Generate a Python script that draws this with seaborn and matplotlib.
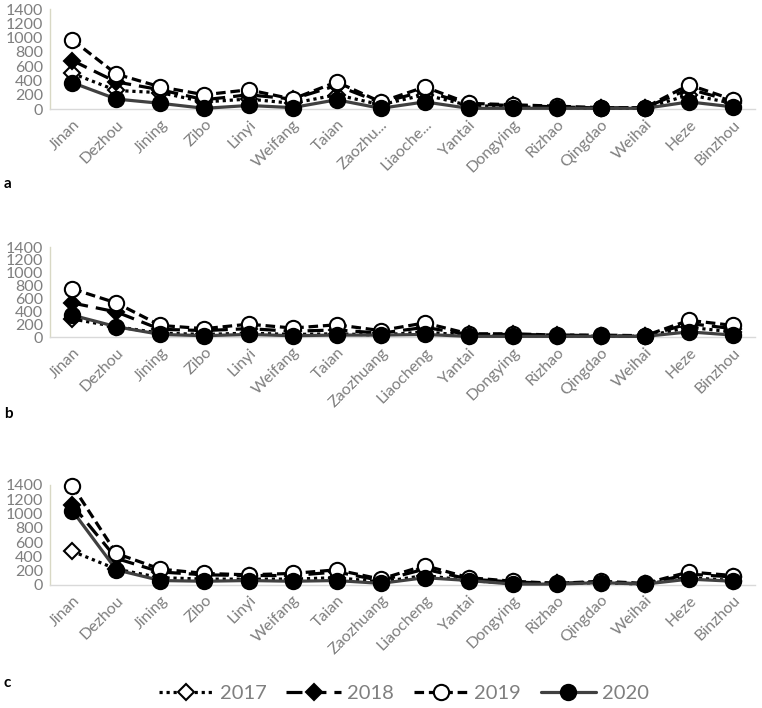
import numpy as np
import pandas as pd
import matplotlib
matplotlib.use("Agg")
import matplotlib.pyplot as plt
import seaborn as sns
from matplotlib.lines import Line2D

# Data
CITIES = ['Jinan', 'Dezhou', 'Jining', 'Zibo', 'Linyi', 'Weifang', 'Taian',
          'Zaozhuang', 'Liaocheng', 'Yantai', 'Dongying', 'Rizhao', 'Qingdao',
          'Weihai', 'Heze', 'Binzhou']
LABELS_A = ['Jinan', 'Dezhou', 'Jining', 'Zibo', 'Linyi', 'Weifang', 'Taian',
            'Zaozhu...', 'Liaoche...', 'Yantai', 'Dongying', 'Rizhao', 'Qingdao',
            'Weihai', 'Heze', 'Binzhou']
YEARS = ['2017', '2018', '2019', '2020']

a_2017 = [500, 260, 230, 100, 140, 80, 200, 60, 200, 50, 30, 20, 10, 10, 200, 80]
a_2018 = [680, 380, 270, 130, 200, 140, 330, 90, 250, 70, 50, 30, 15, 20, 280, 110]
a_2019 = [970, 490, 310, 200, 270, 140, 380, 100, 310, 80, 60, 40, 20, 20, 340, 130]
a_2020 = [370, 140, 80, 10, 50, 20, 130, 10, 100, 10, 10, 10, 10, 10, 100, 30]

b_2017 = [280, 160, 60, 40, 60, 40, 50, 30, 80, 20, 20, 20, 10, 10, 150, 80]
b_2018 = [530, 390, 120, 100, 130, 90, 110, 60, 150, 40, 40, 30, 20, 10, 210, 130]
b_2019 = [750, 530, 180, 130, 200, 140, 190, 100, 220, 50, 50, 30, 30, 20, 260, 180]
b_2020 = [340, 160, 40, 20, 40, 20, 30, 30, 40, 10, 10, 10, 10, 10, 80, 30]

c_2017 = [470, 220, 100, 80, 80, 80, 100, 40, 130, 60, 20, 20, 30, 10, 100, 60]
c_2018 = [1120, 370, 180, 140, 130, 130, 180, 60, 220, 80, 40, 20, 40, 10, 150, 110]
c_2019 = [1390, 440, 220, 160, 140, 160, 210, 80, 270, 100, 50, 20, 50, 20, 180, 130]
c_2020 = [1040, 210, 60, 50, 60, 50, 60, 20, 100, 60, 10, 10, 30, 10, 80, 50]

PANELS = [
    ('a', LABELS_A, [a_2017, a_2018, a_2019, a_2020]),
    ('b', CITIES, [b_2017, b_2018, b_2019, b_2020]),
    ('c', CITIES, [c_2017, c_2018, c_2019, c_2020]),
]

# style per year: line color, dash pattern, marker, marker face, marker size
STYLES = {
    '2017': dict(color='black', dashes=(1, 1.2), marker='D', mfc='white', ms=8),
    '2018': dict(color='black', dashes=(5, 2.5), marker='D', mfc='black', ms=8),
    '2019': dict(color='black', dashes=(3, 1.5), marker='o', mfc='white', ms=11),
    '2020': dict(color='#404040', dashes=None, marker='o', mfc='black', ms=11),
}

sns.set_style('white')
plt.rcParams['font.family'] = ['Lato', 'DejaVu Sans']

fig = plt.figure(figsize=(7.62, 7.08), dpi=100)
# axes rectangles in figure fraction [left, bottom, width, height]
rects = [[0.066, 0.846, 0.925, 0.141],
         [0.066, 0.524, 0.925, 0.127],
         [0.066, 0.174, 0.925, 0.141]]
label_y = [0.735, 0.41, 0.03]

GRAY = '#7f7f7f'
for (tag, labels, series), rect, ly in zip(PANELS, rects, label_y):
    ax = fig.add_axes(rect)
    df = pd.DataFrame({'city': np.tile(CITIES, 4),
                       'year': np.repeat(YEARS, len(CITIES)),
                       'value': np.concatenate(series)})
    for yr in YEARS:
        st = STYLES[yr]
        sub = df[df['year'] == yr]
        ls = '-' if st['dashes'] is None else (0, st['dashes'])
        sns.lineplot(data=sub, x='city', y='value', ax=ax, color=st['color'],
                     linestyle=ls, marker=st['marker'], markerfacecolor=st['mfc'],
                     markeredgecolor='black', markeredgewidth=1.5,
                     markersize=st['ms'], linewidth=2.3, sort=False,
                     zorder=3, clip_on=False)
    ax.set_xlim(-0.5, len(CITIES) - 0.5)
    ax.set_ylim(0, 1400)
    ax.set_yticks(range(0, 1401, 200))
    ax.set_xticks(range(len(CITIES)))
    ax.set_xticklabels(labels, rotation=45, ha='right', rotation_mode='anchor')
    ax.tick_params(axis='both', colors=GRAY, pad=2)
    ax.tick_params(axis='y', length=4, color='#d8d8c4', pad=1, labelsize=11.5)
    ax.tick_params(axis='x', length=0, pad=6, labelsize=11.5)
    ax.set_xlabel('')
    ax.set_ylabel('')
    for s in ['top', 'right']:
        ax.spines[s].set_visible(False)
    ax.spines['left'].set_color('#d8d8c4')
    ax.spines['bottom'].set_color('#d9d9d9')
    ax.spines['left'].set_linewidth(1)
    ax.spines['bottom'].set_linewidth(1)
    ax.patch.set_alpha(0)
    fig.text(0.005, ly, tag, fontsize=11, fontweight='bold', color='black')

handles = []
for yr in YEARS:
    st = STYLES[yr]
    ls = '-' if st['dashes'] is None else (0, st['dashes'])
    handles.append(Line2D([], [], color=st['color'], linestyle=ls, linewidth=2.3,
                          marker=st['marker'], markerfacecolor=st['mfc'],
                          markeredgecolor='black', markeredgewidth=1.5,
                          markersize=st['ms']))
leg = fig.legend(handles, YEARS, loc='center', bbox_to_anchor=(0.53, 0.021),
                 ncol=4, frameon=False, fontsize=14.5, handlelength=2.7,
                 columnspacing=1.0, handletextpad=0.3)
for t in leg.get_texts():
    t.set_color(GRAY)

fig.savefig('out.png', dpi=100)
